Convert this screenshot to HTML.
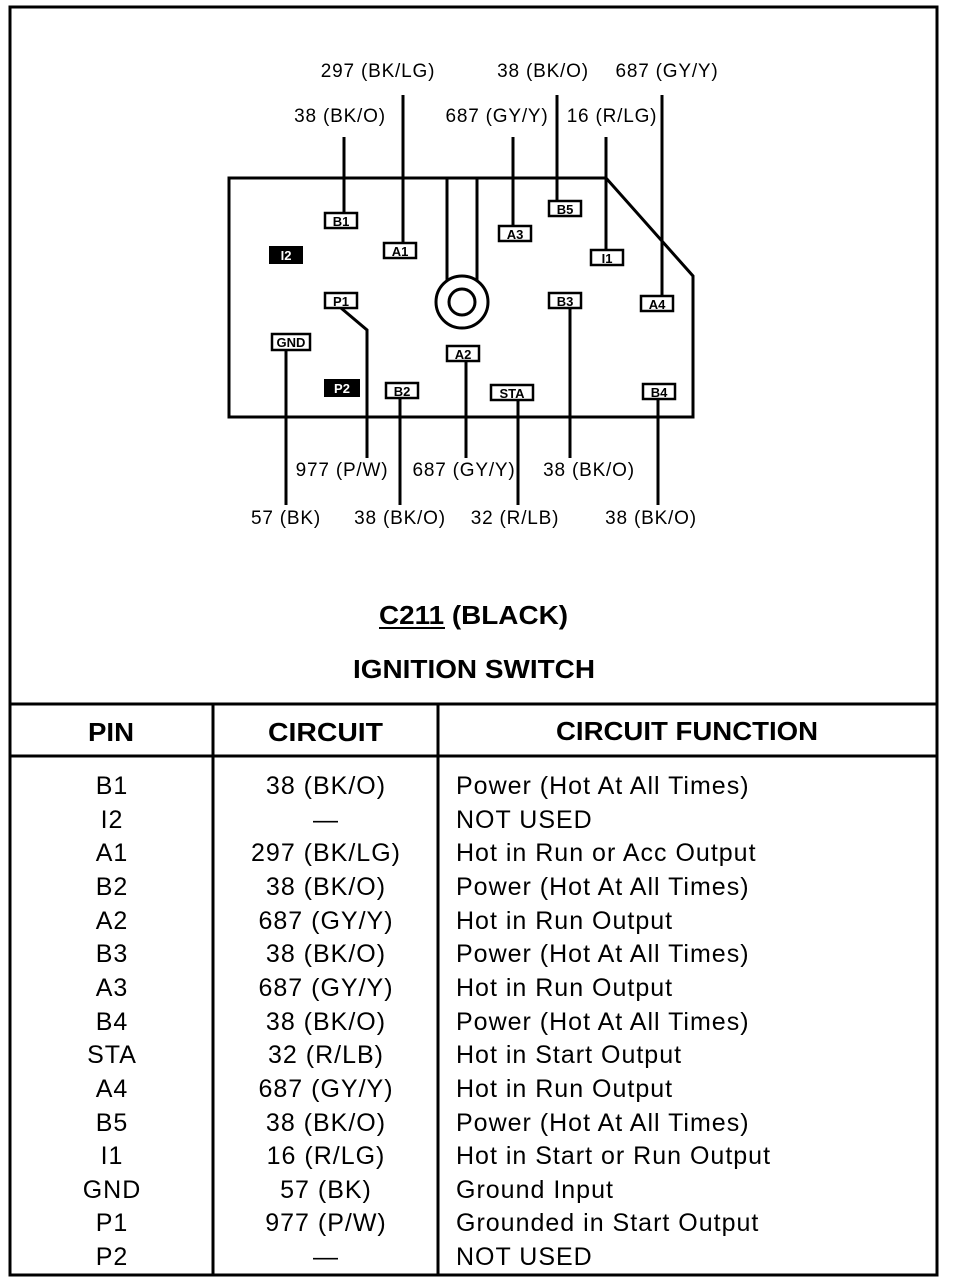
<!DOCTYPE html>
<html><head><meta charset="utf-8"><style>
html,body{margin:0;padding:0;background:#fff}
svg{display:block}
text{font-family:"Liberation Sans",Arial,sans-serif;fill:#000}
</style></head><body>
<svg width="960" height="1282" viewBox="0 0 960 1282" xmlns="http://www.w3.org/2000/svg">
<rect x="10" y="7" width="927" height="1268" fill="none" stroke="#000" stroke-width="3"/>
<g stroke="#000" stroke-width="3" fill="none">
<path d="M229,178 L606,178 L693,276 L693,417 L229,417 Z"/>
<line x1="447" y1="178" x2="447" y2="283"/>
<line x1="477" y1="178" x2="477" y2="283"/>
<circle cx="462" cy="302" r="26" fill="#fff"/>
<circle cx="462" cy="302" r="13"/>
<line x1="344" y1="137" x2="344" y2="213"/>
<line x1="403" y1="95" x2="403" y2="243"/>
<line x1="513" y1="137" x2="513" y2="226"/>
<line x1="557" y1="95" x2="557" y2="201"/>
<line x1="606" y1="137" x2="606" y2="250"/>
<line x1="662" y1="95" x2="662" y2="296"/>
<polyline points="341,308 367,330 367,458"/>
<line x1="286" y1="350" x2="286" y2="505"/>
<line x1="400" y1="398" x2="400" y2="505"/>
<line x1="466" y1="361" x2="466" y2="458"/>
<line x1="518" y1="400" x2="518" y2="505"/>
<line x1="570" y1="308" x2="570" y2="458"/>
<line x1="658" y1="399" x2="658" y2="505"/>
</g>
<g font-size="13" font-weight="bold" text-anchor="middle">
<g stroke="#000" stroke-width="2.5" fill="#fff">
<rect x="325" y="213" width="32" height="15"/>
<rect x="384" y="243" width="32" height="15"/>
<rect x="499" y="226" width="32" height="15"/>
<rect x="549" y="201" width="32" height="15"/>
<rect x="591" y="250" width="32" height="15"/>
<rect x="325" y="293" width="32" height="15"/>
<rect x="549" y="293" width="32" height="15"/>
<rect x="641" y="296" width="32" height="15"/>
<rect x="272" y="334" width="38" height="16"/>
<rect x="447" y="346" width="32" height="15"/>
<rect x="386" y="383" width="32" height="15"/>
<rect x="491" y="385" width="42" height="15"/>
<rect x="643" y="384" width="32" height="15"/>
</g>
<rect x="269" y="246" width="34" height="18" fill="#000"/>
<rect x="324" y="379" width="36" height="18" fill="#000"/>
<text x="341" y="226">B1</text><text x="400" y="256">A1</text><text x="515" y="239">A3</text>
<text x="565" y="214">B5</text><text x="607" y="263">I1</text><text x="341" y="306">P1</text>
<text x="565" y="306">B3</text><text x="657" y="309">A4</text><text x="291" y="347">GND</text>
<text x="463" y="359">A2</text><text x="402" y="396">B2</text><text x="512" y="398">STA</text>
<text x="659" y="397">B4</text>
<text x="286" y="260" style="fill:#fff">I2</text>
<text x="342" y="393" style="fill:#fff">P2</text>
</g>
<g font-size="19" letter-spacing="0.8" text-anchor="middle">
<text x="378" y="77">297 (BK/LG)</text><text x="543" y="77">38 (BK/O)</text><text x="667" y="77">687 (GY/Y)</text>
<text x="340" y="122">38 (BK/O)</text><text x="497" y="122">687 (GY/Y)</text><text x="612" y="122">16 (R/LG)</text>
<text x="342" y="476">977 (P/W)</text><text x="464" y="476">687 (GY/Y)</text><text x="589" y="476">38 (BK/O)</text>
<text x="286" y="524">57 (BK)</text><text x="400" y="524">38 (BK/O)</text><text x="515" y="524">32 (R/LB)</text><text x="651" y="524">38 (BK/O)</text>
</g>
<g font-size="26" font-weight="bold">
<text x="379" y="624" textLength="189" lengthAdjust="spacingAndGlyphs">C211 (BLACK)</text>
<line x1="379" y1="628" x2="445" y2="628" stroke="#000" stroke-width="2"/>
<text x="353" y="678" textLength="242" lengthAdjust="spacingAndGlyphs">IGNITION SWITCH</text>
<text x="88" y="741" textLength="46" lengthAdjust="spacingAndGlyphs">PIN</text>
<text x="268" y="741" textLength="115" lengthAdjust="spacingAndGlyphs">CIRCUIT</text>
<text x="556" y="740" textLength="262" lengthAdjust="spacingAndGlyphs">CIRCUIT FUNCTION</text>
</g>
<g stroke="#000" stroke-width="3">
<line x1="10" y1="704" x2="937" y2="704"/>
<line x1="10" y1="756" x2="937" y2="756"/>
<line x1="213" y1="704" x2="213" y2="1275"/>
<line x1="438" y1="704" x2="438" y2="1275"/>
</g>
<g font-size="25" letter-spacing="1">
<g text-anchor="middle">
<text x="112" y="794">B1</text><text x="112" y="828">I2</text><text x="112" y="861">A1</text><text x="112" y="895">B2</text><text x="112" y="929">A2</text><text x="112" y="962">B3</text><text x="112" y="996">A3</text><text x="112" y="1030">B4</text><text x="112" y="1063">STA</text><text x="112" y="1097">A4</text><text x="112" y="1131">B5</text><text x="112" y="1164">I1</text><text x="112" y="1198">GND</text><text x="112" y="1231">P1</text><text x="112" y="1265">P2</text>
<text x="326" y="794">38 (BK/O)</text><text x="326" y="828">—</text><text x="326" y="861">297 (BK/LG)</text><text x="326" y="895">38 (BK/O)</text><text x="326" y="929">687 (GY/Y)</text><text x="326" y="962">38 (BK/O)</text><text x="326" y="996">687 (GY/Y)</text><text x="326" y="1030">38 (BK/O)</text><text x="326" y="1063">32 (R/LB)</text><text x="326" y="1097">687 (GY/Y)</text><text x="326" y="1131">38 (BK/O)</text><text x="326" y="1164">16 (R/LG)</text><text x="326" y="1198">57 (BK)</text><text x="326" y="1231">977 (P/W)</text><text x="326" y="1265">—</text>
</g>
<g>
<text x="456" y="794">Power (Hot At All Times)</text><text x="456" y="828">NOT USED</text><text x="456" y="861">Hot in Run or Acc Output</text><text x="456" y="895">Power (Hot At All Times)</text><text x="456" y="929">Hot in Run Output</text><text x="456" y="962">Power (Hot At All Times)</text><text x="456" y="996">Hot in Run Output</text><text x="456" y="1030">Power (Hot At All Times)</text><text x="456" y="1063">Hot in Start Output</text><text x="456" y="1097">Hot in Run Output</text><text x="456" y="1131">Power (Hot At All Times)</text><text x="456" y="1164">Hot in Start or Run Output</text><text x="456" y="1198">Ground Input</text><text x="456" y="1231">Grounded in Start Output</text><text x="456" y="1265">NOT USED</text>
</g>
</g>
</svg>
</body></html>
